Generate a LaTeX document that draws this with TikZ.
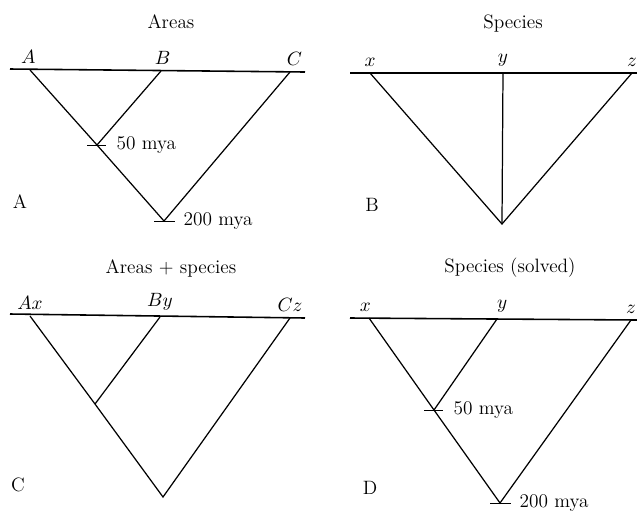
\documentclass[tikz,border=0pt]{standalone}
\usepackage{tikz}
\usetikzlibrary{positioning}

\tikzset{
  branch/.style={line width=0.7pt},
  baseline/.style={line width=0.9pt},
  agetick/.style={line width=0.4pt},
  tiplbl/.style={above=2.5pt, inner sep=1pt},
  agelbl/.style={right=10pt, inner sep=1pt},
  ttl/.style={inner sep=1pt},
  panellbl/.style={inner sep=1pt}
}

\begin{document}
\begin{tikzpicture}[x=0.02cm, y=-0.02cm, font=\fontsize{11}{13}\selectfont]
  \useasboundingbox (0,0) rectangle (637,512);

  % Panel A -- areas cladogram
  \node[ttl] (ttlA) at (171,22) {Areas};
  \coordinate (aL) at (10,69);
  \coordinate (aR) at (305,72);
  \coordinate (tA) at (30,70);
  \coordinate (tB) at (161,71);
  \coordinate (tC) at (290,72);
  \coordinate (a50) at (97,145);
  \coordinate (a200) at (164,221);
  \draw[baseline] (aL) -- (aR);
  \draw[branch] (tA) -- (a50) -- (a200) -- (tC);
  \draw[branch] (tB) -- (a50);
  \draw[agetick] ([xshift=-5.5pt]a50) -- ([xshift=5pt]a50);
  \draw[agetick] ([xshift=-5.5pt]a200) -- ([xshift=6pt]a200);
  \node[tiplbl, xshift=-1pt] (lA) at (tA) {$A$};
  \node[tiplbl, xshift=1pt] (lB) at (tB) {$B$};
  \node[tiplbl, xshift=2.5pt] (lC) at (tC) {$C$};
  \node[agelbl] (age50A) at (a50) {50 mya};
  \node[agelbl] (age200A) at (a200) {200 mya};
  \node[panellbl] (pA) at (20,202) {A};

  % Panel B -- species, unresolved
  \node[ttl] (ttlB) at (513,24) {Species};
  \coordinate (bL) at (350,73);
  \coordinate (bR) at (637,73);
  \coordinate (tx) at (370,73);
  \coordinate (ty) at (503,73);
  \coordinate (tz) at (632,73);
  \coordinate (broot) at (502,224);
  \draw[baseline] (bL) -- (bR);
  \draw[branch] (tx) -- (broot) -- (tz);
  \draw[branch] (ty) -- (broot);
  \node[tiplbl] (lx) at (tx) {$x$};
  \node[tiplbl] (ly) at (ty) {$y$};
  \node[tiplbl] (lz) at (tz) {$z$};
  \node[panellbl] (pB) at (372,205) {B};

  % Panel C -- areas + species
  \node[ttl] (ttlC) at (171,268) {Areas + species};
  \coordinate (cL) at (10,314);
  \coordinate (cR) at (305,318);
  \coordinate (tAx) at (30,316);
  \coordinate (tBy) at (160,317);
  \coordinate (tCz) at (290,318);
  \coordinate (cmid) at (95,404);
  \coordinate (croot) at (163,497);
  \draw[baseline] (cL) -- (cR);
  \draw[branch] (tAx) -- (cmid) -- (croot) -- (tCz);
  \draw[branch] (tBy) -- (cmid);
  \node[tiplbl] (lAx) at (tAx) {$Ax$};
  \node[tiplbl] (lBy) at (tBy) {$By$};
  \node[tiplbl] (lCz) at (tCz) {$Cz$};
  \node[panellbl] (pC) at (18,485) {C};

  % Panel D -- species, solved
  \node[ttl] (ttlD) at (510,268) {Species (solved)};
  \coordinate (dL) at (350,318);
  \coordinate (dR) at (637,320);
  \coordinate (dx) at (369,318);
  \coordinate (dy) at (497,319);
  \coordinate (dz) at (631,320);
  \coordinate (d50) at (434,410);
  \coordinate (d200) at (500,503);
  \draw[baseline] (dL) -- (dR);
  \draw[branch] (dx) -- (d50) -- (d200) -- (dz);
  \draw[branch] (dy) -- (d50);
  \draw[agetick] ([xshift=-5.5pt]d50) -- ([xshift=5pt]d50);
  \draw[agetick] ([xshift=-5.5pt]d200) -- ([xshift=6pt]d200);
  \node[tiplbl, xshift=-2pt] (ldx) at (dx) {$x$};
  \node[tiplbl, xshift=3pt] (ldy) at (dy) {$y$};
  \node[tiplbl] (ldz) at (dz) {$z$};
  \node[agelbl] (age50D) at (d50) {50 mya};
  \node[agelbl] (age200D) at (d200) {200 mya};
  \node[panellbl] (pD) at (370,488) {D};
\end{tikzpicture}
\end{document}
